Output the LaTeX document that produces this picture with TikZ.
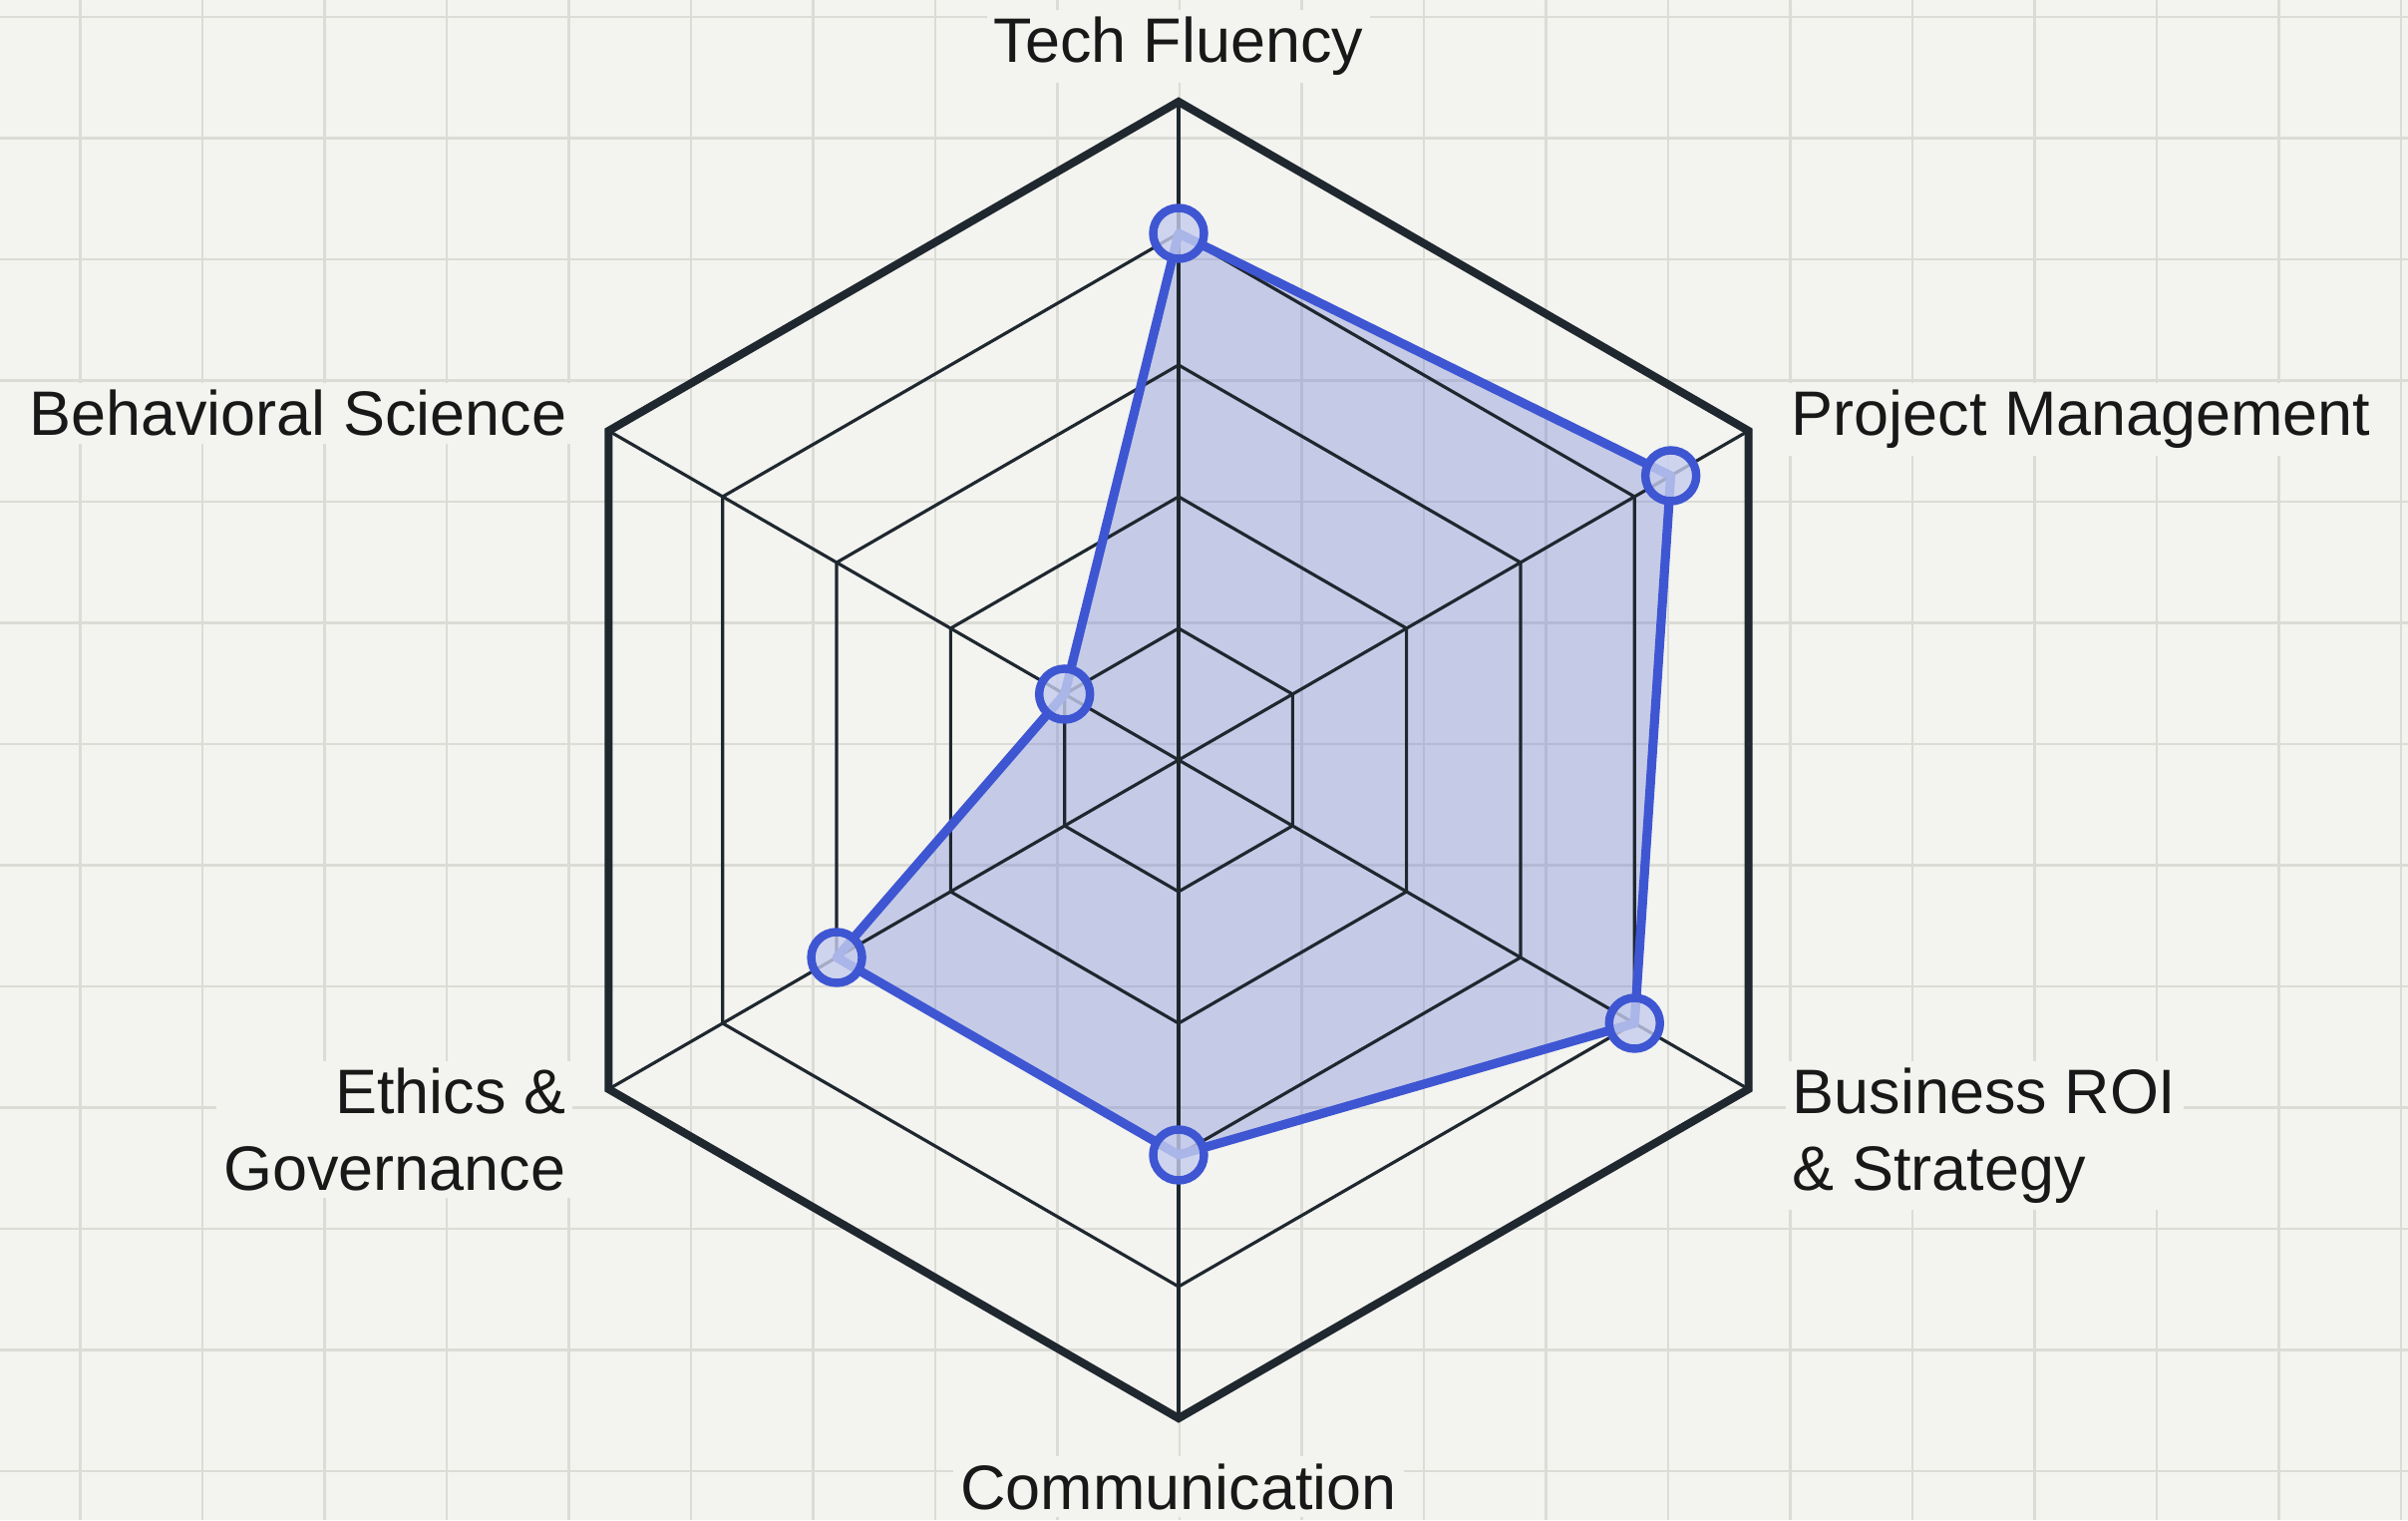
\documentclass[tikz,border=0pt]{standalone}
\usepackage{fontspec}
\setmainfont{Liberation Sans}
\definecolor{paper}{RGB}{243,243,239}
\definecolor{gridc}{RGB}{220,220,215}
\definecolor{ink}{RGB}{31,39,47}
\definecolor{txt}{RGB}{24,24,24}
\definecolor{accent}{RGB}{62,86,210}
\definecolor{dotfill}{RGB}{198,205,238}
\begin{document}
\begin{tikzpicture}[x=0.01cm,y=0.01cm,
  gridline/.style={draw=gridc,line width=0.6pt},
  ringline/.style={draw=ink,line width=0.9pt,line join=miter},
  outerring/.style={draw=ink,line width=2.3pt,line join=miter},
  axisline/.style={draw=ink,line width=0.9pt},
  datafill/.style={fill=accent,fill opacity=0.25},
  dataline/.style={draw=accent,line width=2.6pt,line join=round},
  datadot/.style={circle,draw=accent,line width=2.4pt,fill=dotfill,fill opacity=0.8,draw opacity=1,minimum size=0.51cm,inner sep=0pt},
  axislabel/.style={font=\fontsize{17.9pt}{21.9pt}\selectfont,text=txt,fill=paper,inner sep=2pt}]
\useasboundingbox (0,0) rectangle (2415,1524);
\fill[paper] (0,0) rectangle (2415,1524);
% background grid
\foreach \k in {0,...,19} \draw[gridline] (80.5+122.5*\k,0) -- (80.5+122.5*\k,1524);
\foreach \k in {-6,...,6} \draw[gridline] (0,778+121.5*\k) -- (2415,778+121.5*\k);
% axis labels
\node[axislabel,anchor=base] (lt) at (1182,1461) {Tech Fluency};
\node[axislabel,anchor=base] (lc) at (1182,11) {Communication};
\node[axislabel,anchor=base east] (lb) at (576,1087) {Behavioral Science};
\node[axislabel,anchor=base west] (lp) at (1789,1087) {Project Management};
\node[axislabel,anchor=north west,align=left] (lr) at (1790,461) {Business ROI\\\& Strategy};
\node[axislabel,anchor=north east,align=right] (le) at (575,461) {Ethics \&\\Governance};
\begin{scope}[shift={(1182,762)}]
  \coordinate (O) at (0,0);
  \coordinate (p1) at (90:528);
  \coordinate (p2) at (30:570);
  \coordinate (p3) at (-30:528);
  \coordinate (p4) at (-90:396);
  \coordinate (p5) at (-150:396);
  \coordinate (p6) at (150:132);
  \fill[datafill] (p1) -- (p2) -- (p3) -- (p4) -- (p5) -- (p6) -- cycle;
  \foreach \r in {132,264,396,528}
    \draw[ringline] (90:\r) -- (30:\r) -- (-30:\r) -- (-90:\r) -- (-150:\r) -- (150:\r) -- cycle;
  \foreach \a/\n in {90/1,30/2,-30/3,-90/4,-150/5,150/6} {
    \coordinate (v\n) at (\a:660);
    \draw[axisline] (O) -- (v\n);
  }
  \draw[outerring] (v1) -- (v2) -- (v3) -- (v4) -- (v5) -- (v6) -- cycle;
  \draw[dataline] (p1) -- (p2) -- (p3) -- (p4) -- (p5) -- (p6) -- cycle;
  \foreach \n in {1,...,6} \node[datadot] (d\n) at (p\n) {};
\end{scope}
\end{tikzpicture}
\end{document}
